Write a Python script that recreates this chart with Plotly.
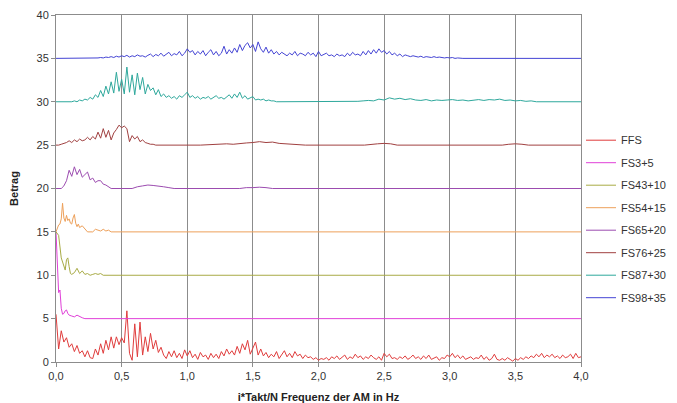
import numpy as np
import plotly.graph_objects as go

# ---------------- data ----------------
series_names = ["FFS", "FS3+5", "FS43+10", "FS54+15", "FS65+20", "FS76+25", "FS87+30", "FS98+35"]
offsets = [0, 5, 10, 15, 20, 25, 30, 35]
colors = ["#e03c3c", "#e040d8", "#a8ab45", "#eda05a", "#9c4cb0", "#a04040", "#2ea89c", "#4444d4"]

x_ticks = [0.0, 0.5, 1.0, 1.5, 2.0, 2.5, 3.0, 3.5, 4.0]
y_ticks = [0, 5, 10, 15, 20, 25, 30, 35, 40]

# FFS: frequency grid 0..4 Hz, step 0.02
ffs_step = 0.02
ffs_vals = [
    5.5, 1.5, 3.6, 2.3, 2.8, 1.7, 2.1, 1.2, 1.9, 1.0,
    1.3, 0.6, 1.3, 0.5, 0.4, 1.5, 0.8, 2.1, 1.0, 2.5,
    1.4, 2.9, 1.6, 2.9, 2.0, 2.8, 2.2, 5.9, 1.0, 0.2,
    4.4, 0.6, 4.6, 0.8, 2.9, 1.2, 3.3, 1.5, 2.5, 1.1,
    1.7, 0.8, 0.4, 1.2, 0.6, 1.3, 0.5, 1.0, 0.4, 1.4,
    0.7, 1.3, 0.5, 0.9, 0.3, 1.1, 0.6, 0.8, 0.3, 1.0,
    0.5, 0.9, 0.4, 1.2, 0.7, 1.5, 0.9, 1.3, 0.8, 1.8,
    1.0, 2.1, 1.4, 2.5, 0.9, 1.7, 2.3, 0.8, 1.5, 0.7,
    1.1, 0.5, 0.9, 0.6, 1.2, 0.4, 0.8, 1.3, 0.6, 1.0,
    0.5, 1.2, 0.7, 0.9, 0.4, 0.8, 0.5, 0.6, 0.3, 0.5,
    0.2, 0.4, 0.3, 0.5, 0.2, 0.6, 0.4, 0.7, 0.3, 0.5,
    0.8, 0.3, 0.6, 0.4, 0.9, 0.5, 0.7, 0.3, 0.6, 0.4,
    0.8, 0.5, 0.3, 0.6, 0.2, 1.0, 0.6, 0.9, 0.4, 0.5,
    0.3, 0.6, 0.4, 0.7, 0.3, 0.5, 0.8, 0.4, 0.6, 0.3,
    0.7, 0.4, 0.8, 0.3, 0.5, 0.6, 0.2, 0.5, 0.4, 0.8,
    0.6, 1.0, 0.5, 0.8, 0.4, 0.7, 0.3, 0.5, 0.6, 0.3,
    0.5, 0.4, 0.8, 0.3, 0.6, 0.2, 0.4, 0.9, 0.3, 0.2,
    0.4, 0.2, 0.5, 0.3, 0.1, 0.4, 0.2, 0.5, 0.3, 0.6,
    0.4, 0.7, 0.5, 0.9, 0.6, 1.0, 0.5, 0.8, 0.6, 0.9,
    0.5, 0.7, 0.4, 0.8, 0.5, 0.6, 0.9, 0.4, 1.0, 0.5,
    0.6,
]

# FS3+5 (amplitude above its offset)
fs3_x = [0.0, 0.01, 0.02, 0.03, 0.04, 0.05, 0.06, 0.07, 0.08, 0.09, 0.10, 0.12, 0.14, 0.16, 0.18, 0.20, 0.22, 4.0]
fs3_vals = [10.0, 6.1, 3.0, 3.3, 1.2, 0.5, 0.6, 0.9, 1.0, 0.6, 0.4, 0.3, 0.2, 0.4, 0.2, 0.1, 0.0, 0.0]

# FS43+10
fs43_x = [0.0, 0.02, 0.04, 0.06, 0.07, 0.08, 0.09, 0.10, 0.11, 0.12, 0.14, 0.16, 0.18, 0.20,
          0.22, 0.24, 0.26, 0.28, 0.30, 0.32, 0.34, 0.36, 4.0]
fs43_vals = [5.0, 4.6, 2.0, 1.0, 0.6, 1.8, 2.0, 1.0, 0.2, 0.1, 0.3, 0.8, 0.2, 0.5,
             0.1, 0.2, 0.0, 0.1, 0.2, 0.1, 0.2, 0.0, 0.0]

# FS54+15
fs54_x = [0.0, 0.01, 0.02, 0.03, 0.04, 0.05, 0.06, 0.07, 0.08, 0.09, 0.10, 0.11, 0.12, 0.13,
          0.14, 0.15, 0.16, 0.17, 0.18, 0.20, 0.22, 0.24, 0.28, 0.30, 0.32, 0.34, 0.36, 0.38,
          0.40, 0.42, 4.0]
fs54_vals = [0.0, 0.5, 0.8, 0.9, 1.5, 3.3, 1.6, 1.2, 1.9, 1.3, 1.5, 1.0, 0.9, 1.6,
             2.0, 1.0, 0.6, 0.9, 0.5, 0.7, 0.4, 0.0, 0.0, 0.3, 0.2, 0.1, 0.3, 0.1,
             0.2, 0.0, 0.0]

# FS65+20 : segments (start, step, values)
fs65_seg1 = [0.0, 0.3, 0.9, 2.1, 1.4, 2.5, 1.6, 2.2, 1.3, 1.6,
             1.9, 1.0, 1.2, 0.7, 0.9, 0.9, 0.5, 0.4, 0.2, 0.0]
fs65_seg2 = [0.0, 0.2, 0.3, 0.4, 0.35, 0.3, 0.2, 0.1, 0.0]
fs65_seg3 = [0.0, 0.1, 0.1, 0.15, 0.1, 0.0]

# FS76+25
fs76_seg1 = [0.0, 0.1, 0.2, 0.3, 0.5, 0.3, 0.6, 0.4, 0.7, 0.5,
             0.6, 0.9, 0.6, 1.0, 0.7, 1.5, 0.8, 1.9, 0.9, 1.7,
             0.6, 1.4, 1.8, 2.3, 2.0, 2.2, 1.9, 0.4, 1.1, 0.7,
             1.0, 0.4, 0.6, 0.3, 0.2, 0.1, 0.1, 0.0]
fs76_seg2 = [0.0, 0.05, 0.1, 0.1, 0.15, 0.1, 0.2, 0.25, 0.3, 0.4, 0.3, 0.35, 0.2, 0.15, 0.1, 0.05, 0.0]
fs76_seg3 = [0.0, 0.1, 0.15, 0.2, 0.15, 0.0]
fs76_seg4 = [0.0, 0.1, 0.15, 0.1, 0.0]

# FS87+30
fs87_seg1 = [0.0, 0.0, 0.1, 0.0, 0.2, 0.1, 0.3, 0.2, 0.5, 0.3,
             0.8, 0.5, 1.3, 0.6, 1.8, 0.9, 2.3, 1.0, 3.4, 1.2,
             2.6, 0.9, 4.0, 1.1, 3.1, 0.8, 3.3, 1.4, 2.8, 0.9,
             2.0, 1.3, 1.6, 0.8, 1.4, 0.6, 0.9, 0.5, 0.7, 0.4,
             0.6, 0.3, 0.7, 0.5, 0.8, 1.1, 0.5, 0.7, 0.4, 0.6,
             0.3, 0.5, 0.4, 0.6, 0.3, 0.5, 0.7, 0.4, 0.5, 0.3,
             0.6, 0.8, 0.4, 0.9, 0.5, 1.1, 0.4, 0.7, 0.3, 0.5,
             0.6, 0.2, 0.3, 0.2, 0.3, 0.1, 0.2, 0.1, 0.1, 0.0,
             0.0]
fs87_seg2 = [0.0, 0.05, 0.1, 0.15, 0.1, 0.3, 0.2, 0.45, 0.3, 0.4,
             0.25, 0.35, 0.2, 0.15, 0.25, 0.1, 0.2, 0.15, 0.2, 0.25,
             0.15, 0.2, 0.1, 0.2, 0.25, 0.15, 0.25, 0.2, 0.3, 0.15,
             0.2, 0.1, 0.15, 0.05, 0.1, 0.0, 0.0]

# FS98+35
fs98_seg1 = [0.0, 0.05, 0.1, 0.05, 0.15, 0.1, 0.2, 0.1, 0.25, 0.15, 0.3,
             0.2, 0.35, 0.15, 0.3, 0.2, 0.4, 0.25, 0.3, 0.15, 0.35,
             0.5, 0.2, 0.45, 0.3, 0.6, 0.25, 0.5, 0.7, 0.3, 0.55,
             0.4, 0.8, 0.3, 0.6, 1.1, 0.7, 0.9, 0.4, 0.8, 0.5,
             0.9, 0.3, 0.7, 1.0, 0.4, 0.8, 0.3, 0.6, 1.4, 0.5,
             1.0, 0.6, 1.2, 0.7, 1.6, 0.9, 1.5, 1.8, 1.2, 1.6,
             0.8, 1.9, 1.1, 0.7, 1.3, 0.6, 1.0, 0.5, 0.8, 0.4,
             0.7, 0.5, 0.3, 0.6, 0.4, 0.8, 0.3, 0.6, 0.5, 0.3,
             0.7, 0.4, 0.6, 0.2, 0.8, 0.3, 0.5, 0.6, 0.3, 0.4,
             0.2, 0.5, 0.3, 0.4, 0.2, 0.6, 0.3, 0.7, 0.4, 0.5,
             0.3, 0.8, 0.4, 0.9, 0.5, 1.0, 0.6, 1.1, 0.7, 0.9,
             0.5, 0.8, 0.4, 0.6, 0.3, 0.5, 0.2, 0.4, 0.3, 0.2,
             0.3, 0.2, 0.15, 0.25, 0.1, 0.2, 0.15, 0.1, 0.2, 0.1,
             0.15, 0.1, 0.05, 0.1, 0.05, 0.1, 0.0, 0.05, 0.0, 0.0]

# segment layout (start frequency, step) for each segmented series
fs65_segs = [(0.04, 0.02, fs65_seg1), (0.58, 0.04, fs65_seg2), (1.40, 0.05, fs65_seg3)]
fs76_segs = [(0.02, 0.02, fs76_seg1), (1.10, 0.05, fs76_seg2), (2.35, 0.05, fs76_seg3), (3.40, 0.05, fs76_seg4)]
fs87_segs = [(0.10, 0.02, fs87_seg1), (2.26, 0.04, fs87_seg2)]
fs98_segs = [(0.30, 0.02, fs98_seg1)]


def build(segs):
    xs, ys = [0.0], [0.0]
    for start, step, vals in segs:
        xs += list(np.round(start + step * np.arange(len(vals)), 3))
        ys += list(vals)
    xs.append(4.0)
    ys.append(0.0)
    return xs, ys


ffs_x = list(np.round(ffs_step * np.arange(len(ffs_vals)), 3))
data_xy = [
    (ffs_x, ffs_vals),
    (fs3_x, fs3_vals),
    (fs43_x, fs43_vals),
    (fs54_x, fs54_vals),
    build(fs65_segs),
    build(fs76_segs),
    build(fs87_segs),
    build(fs98_segs),
]

# ---------------- figure ----------------
FONT = "Liberation Sans, Arial, sans-serif"
fig = go.Figure()
for name, off, col, (xs, ys) in zip(series_names, offsets, colors, data_xy):
    fig.add_trace(go.Scatter(
        x=xs, y=[v + off for v in ys], mode="lines", name=name,
        legendgroup=name,
        line=dict(color=col, width=1),
    ))

fig.update_layout(
    width=677, height=403,
    margin=dict(l=56, r=96, t=15, b=41, autoexpand=False),
    paper_bgcolor="white", plot_bgcolor="white",
    separators=",.",
    font=dict(family=FONT, size=11, color="#333333"),
    showlegend=True,
    legend=dict(
        x=1.0, xanchor="left", y=0.681, yanchor="top",
        font=dict(family=FONT, size=11, color="#333333"),
        traceorder="grouped", tracegroupgap=3.5,
        bgcolor="rgba(0,0,0,0)", borderwidth=0,
    ),
    xaxis=dict(
        range=[0, 4], tickvals=x_ticks, tickformat=".1f",
        showgrid=True, gridcolor="#8c8c8c", gridwidth=1,
        showline=True, linecolor="#8c8c8c", linewidth=1, mirror=True,
        ticks="outside", ticklen=4, tickcolor="#8c8c8c",
        zeroline=False, automargin=False,
        title=dict(text="<b>i*Takt/N Frequenz der AM in Hz</b>", font=dict(size=11, color="#222222")),
    ),
    yaxis=dict(
        range=[0, 40], tickvals=y_ticks,
        showgrid=False,
        showline=True, linecolor="#8c8c8c", linewidth=1, mirror=True,
        ticks="outside", ticklen=4, tickcolor="#8c8c8c",
        zeroline=False, automargin=False,
        title=dict(text="<b>Betrag</b>", font=dict(size=11, color="#222222")),
    ),
)

fig.write_html("out.html")
